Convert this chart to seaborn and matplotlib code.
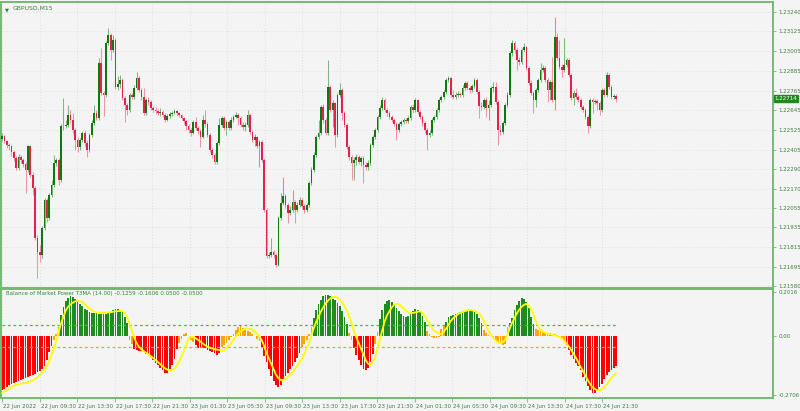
import numpy as np
import pandas as pd
import matplotlib
matplotlib.use("Agg")
import matplotlib.pyplot as plt
import matplotlib.transforms as mtransforms
from matplotlib import font_manager
import seaborn as sns

# ---------------- data ----------------
symbol_title = "GBPUSD,M15"
indicator_title = "Balance of Market Power T3MA (14.00) -0.1259 -0.1606 0.0500 -0.0500"

first_open = 1.22471
close = [
    1.22489, 1.22459, 1.22435, 1.22429, 1.22392, 1.22356, 1.22295, 1.22362, 1.22343, 1.22319,
    1.22283, 1.22429, 1.22252, 1.22174, 1.21870, 1.21785, 1.21767, 1.21931, 1.22101, 1.21991,
    1.22131, 1.22192, 1.22325, 1.22343, 1.22222, 1.22550, 1.22550, 1.22556, 1.22617, 1.22586,
    1.22526, 1.22465, 1.22422, 1.22465, 1.22507, 1.22447, 1.22404, 1.22495, 1.22568, 1.22629,
    1.22598, 1.22933, 1.22750, 1.22738, 1.23054, 1.23102, 1.23011, 1.23072, 1.22787, 1.22805,
    1.22829, 1.22720, 1.22677, 1.22647, 1.22738, 1.22726, 1.22781, 1.22841, 1.22768, 1.22726,
    1.22629, 1.22708, 1.22696, 1.22659, 1.22647, 1.22641, 1.22629, 1.22635, 1.22617, 1.22586,
    1.22611, 1.22623, 1.22629, 1.22641, 1.22629, 1.22617, 1.22598, 1.22580, 1.22550, 1.22526,
    1.22507, 1.22574, 1.22538, 1.22520, 1.22483, 1.22586, 1.22562, 1.22495, 1.22404, 1.22374,
    1.22331, 1.22447, 1.22556, 1.22598, 1.22538, 1.22574, 1.22538, 1.22586, 1.22605, 1.22617,
    1.22598, 1.22556, 1.22544, 1.22556, 1.22617, 1.22513, 1.22465, 1.22483, 1.22429, 1.22453,
    1.22343, 1.22040, 1.21761, 1.21767, 1.21785, 1.21767, 1.21706, 1.21991, 1.22082, 1.22125,
    1.22070, 1.22022, 1.22040, 1.22088, 1.22040, 1.22070, 1.22101, 1.22064, 1.22040, 1.22070,
    1.22204, 1.22283, 1.22374, 1.22483, 1.22507, 1.22665, 1.22586, 1.22507, 1.22787, 1.22647,
    1.22690, 1.22495, 1.22738, 1.22768, 1.22629, 1.22556, 1.22422, 1.22362, 1.22325, 1.22343,
    1.22362, 1.22331, 1.22356, 1.22313, 1.22301, 1.22325, 1.22435, 1.22483, 1.22526, 1.22605,
    1.22659, 1.22708, 1.22647, 1.22629, 1.22605, 1.22586, 1.22562, 1.22526, 1.22562, 1.22574,
    1.22586, 1.22580, 1.22598, 1.22665, 1.22647, 1.22708, 1.22635, 1.22605, 1.22568, 1.22526,
    1.22495, 1.22507, 1.22586, 1.22605, 1.22647, 1.22708, 1.22726, 1.22756, 1.22829, 1.22841,
    1.22738, 1.22726, 1.22738, 1.22744, 1.22738, 1.22781, 1.22811, 1.22781, 1.22768, 1.22793,
    1.22829, 1.22756, 1.22671, 1.22665, 1.22708, 1.22659, 1.22677, 1.22781, 1.22787, 1.22696,
    1.22526, 1.22513, 1.22568, 1.22677, 1.22738, 1.22993, 1.23054, 1.23011, 1.22951, 1.22939,
    1.23011, 1.23030, 1.22902, 1.22811, 1.22750, 1.22708, 1.22768, 1.22829, 1.22890, 1.22902,
    1.22829, 1.22768, 1.22817, 1.22708, 1.23090, 1.22963, 1.22908, 1.22890, 1.22920, 1.22951,
    1.22860, 1.22720, 1.22750, 1.22726, 1.22708, 1.22665, 1.22647, 1.22605, 1.22550, 1.22708,
    1.22696, 1.22702, 1.22690, 1.22647, 1.22768, 1.22738, 1.22860, 1.22787, 1.22726, 1.22732,
    1.22714,
]
high = [
    1.22507, 1.22495, 1.22465, 1.22447, 1.22435, 1.22404, 1.22368, 1.22380, 1.22374, 1.22356,
    1.22331, 1.22435, 1.22435, 1.22271, 1.22186, 1.21888, 1.21827, 1.21943, 1.22113, 1.22113,
    1.22143, 1.22222, 1.22374, 1.22356, 1.22356, 1.22562, 1.22720, 1.22586, 1.22677, 1.22647,
    1.22629, 1.22538, 1.22483, 1.22477, 1.22520, 1.22526, 1.22465, 1.22507, 1.22586, 1.22677,
    1.22647, 1.22963, 1.23024, 1.22762, 1.23066, 1.23145, 1.23115, 1.23102, 1.23084, 1.22853,
    1.22860, 1.22841, 1.22732, 1.22690, 1.22750, 1.22750, 1.22799, 1.22878, 1.22853, 1.22781,
    1.22781, 1.22720, 1.22726, 1.22708, 1.22671, 1.22665, 1.22653, 1.22659, 1.22647, 1.22629,
    1.22623, 1.22635, 1.22641, 1.22653, 1.22647, 1.22635, 1.22623, 1.22605, 1.22586, 1.22562,
    1.22538, 1.22586, 1.22605, 1.22550, 1.22532, 1.22617, 1.22647, 1.22574, 1.22507, 1.22416,
    1.22386, 1.22459, 1.22598, 1.22611, 1.22611, 1.22586, 1.22586, 1.22605, 1.22617, 1.22635,
    1.22629, 1.22611, 1.22574, 1.22574, 1.22647, 1.22629, 1.22526, 1.22501, 1.22489, 1.22465,
    1.22465, 1.22356, 1.22052, 1.21785, 1.21870, 1.21797, 1.21779, 1.22003, 1.22143, 1.22240,
    1.22137, 1.22082, 1.22064, 1.22161, 1.22101, 1.22088, 1.22119, 1.22113, 1.22076, 1.22082,
    1.22216, 1.22301, 1.22392, 1.22495, 1.22586, 1.22677, 1.22684, 1.22598, 1.22951, 1.22799,
    1.22708, 1.22696, 1.22750, 1.22811, 1.22781, 1.22641, 1.22568, 1.22435, 1.22374, 1.22362,
    1.22380, 1.22374, 1.22368, 1.22368, 1.22331, 1.22343, 1.22447, 1.22495, 1.22538, 1.22617,
    1.22677, 1.22726, 1.22720, 1.22659, 1.22641, 1.22617, 1.22598, 1.22574, 1.22574, 1.22586,
    1.22598, 1.22598, 1.22611, 1.22677, 1.22684, 1.22720, 1.22714, 1.22647, 1.22617, 1.22580,
    1.22538, 1.22526, 1.22598, 1.22617, 1.22659, 1.22720, 1.22738, 1.22768, 1.22841, 1.22853,
    1.22847, 1.22768, 1.22756, 1.22762, 1.22756, 1.22799, 1.22823, 1.22823, 1.22793, 1.22805,
    1.22841, 1.22841, 1.22768, 1.22696, 1.22720, 1.22726, 1.22708, 1.22793, 1.22817, 1.22817,
    1.22708, 1.22556, 1.22580, 1.22690, 1.22756, 1.23005, 1.23072, 1.23066, 1.23024, 1.22969,
    1.23024, 1.23054, 1.23036, 1.22914, 1.22829, 1.22762, 1.22781, 1.22841, 1.22933, 1.22920,
    1.22914, 1.22841, 1.22829, 1.22969, 1.23212, 1.23115, 1.23072, 1.22927, 1.23084, 1.22963,
    1.22963, 1.22872, 1.22768, 1.22781, 1.22738, 1.22720, 1.22677, 1.22659, 1.22617, 1.22720,
    1.22720, 1.22714, 1.22714, 1.22702, 1.22781, 1.22781, 1.22878, 1.22872, 1.22799, 1.22744,
    1.22744,
]
low = [
    1.22459, 1.22447, 1.22416, 1.22404, 1.22368, 1.22337, 1.22283, 1.22283, 1.22325, 1.22301,
    1.22143, 1.22271, 1.22240, 1.22131, 1.21858, 1.21627, 1.21724, 1.21749, 1.21918, 1.21967,
    1.21979, 1.22119, 1.22180, 1.22307, 1.22192, 1.22210, 1.22526, 1.22538, 1.22544, 1.22568,
    1.22507, 1.22404, 1.22392, 1.22404, 1.22453, 1.22429, 1.22362, 1.22392, 1.22483, 1.22556,
    1.22586, 1.22586, 1.22738, 1.22611, 1.22726, 1.23042, 1.22951, 1.22999, 1.22775, 1.22768,
    1.22781, 1.22708, 1.22574, 1.22617, 1.22635, 1.22714, 1.22714, 1.22768, 1.22756, 1.22708,
    1.22617, 1.22617, 1.22677, 1.22647, 1.22635, 1.22623, 1.22617, 1.22611, 1.22605, 1.22574,
    1.22580, 1.22598, 1.22611, 1.22623, 1.22617, 1.22605, 1.22586, 1.22562, 1.22526, 1.22507,
    1.22489, 1.22501, 1.22526, 1.22501, 1.22422, 1.22477, 1.22544, 1.22483, 1.22392, 1.22356,
    1.22319, 1.22319, 1.22435, 1.22544, 1.22526, 1.22495, 1.22526, 1.22526, 1.22574, 1.22598,
    1.22556, 1.22544, 1.22526, 1.22520, 1.22544, 1.22501, 1.22453, 1.22429, 1.22416, 1.22301,
    1.22331, 1.22028, 1.21749, 1.21749, 1.21754, 1.21749, 1.21694, 1.21700, 1.21979, 1.22070,
    1.22052, 1.21961, 1.22010, 1.22028, 1.21961, 1.22028, 1.22058, 1.22046, 1.22022, 1.22028,
    1.22058, 1.22192, 1.22271, 1.22362, 1.22471, 1.22495, 1.22568, 1.22495, 1.22495, 1.22635,
    1.22544, 1.22422, 1.22483, 1.22726, 1.22586, 1.22544, 1.22410, 1.22343, 1.22222, 1.22222,
    1.22313, 1.22319, 1.22307, 1.22204, 1.22283, 1.22283, 1.22313, 1.22422, 1.22471, 1.22513,
    1.22592, 1.22647, 1.22635, 1.22611, 1.22592, 1.22574, 1.22550, 1.22465, 1.22513, 1.22550,
    1.22562, 1.22568, 1.22568, 1.22586, 1.22635, 1.22635, 1.22623, 1.22592, 1.22550, 1.22507,
    1.22404, 1.22483, 1.22495, 1.22574, 1.22592, 1.22635, 1.22696, 1.22714, 1.22744, 1.22817,
    1.22726, 1.22714, 1.22714, 1.22726, 1.22726, 1.22726, 1.22768, 1.22768, 1.22750, 1.22756,
    1.22781, 1.22744, 1.22598, 1.22647, 1.22653, 1.22605, 1.22586, 1.22665, 1.22756, 1.22684,
    1.22435, 1.22495, 1.22501, 1.22556, 1.22665, 1.22726, 1.22975, 1.22993, 1.22890, 1.22920,
    1.22927, 1.22999, 1.22890, 1.22799, 1.22738, 1.22629, 1.22665, 1.22756, 1.22817, 1.22878,
    1.22817, 1.22696, 1.22708, 1.22696, 1.22647, 1.22951, 1.22896, 1.22847, 1.22878, 1.22908,
    1.22847, 1.22708, 1.22677, 1.22714, 1.22696, 1.22653, 1.22635, 1.22592, 1.22507, 1.22538,
    1.22629, 1.22684, 1.22647, 1.22617, 1.22635, 1.22726, 1.22726, 1.22775, 1.22714, 1.22714,
    1.22696,
]

bmp_hist = [
    -0.250, -0.243, -0.235, -0.228, -0.223, -0.218, -0.212, -0.207, -0.202, -0.198,
    -0.195, -0.191, -0.187, -0.182, -0.174, -0.165, -0.161, -0.154, -0.140, -0.110,
    -0.077, -0.047, -0.018, 0.010, 0.040, 0.095, 0.133, 0.158, 0.174, 0.182,
    0.180, 0.170, 0.158, 0.147, 0.135, 0.125, 0.116, 0.108, 0.105, 0.103,
    0.103, 0.102, 0.099, 0.098, 0.100, 0.103, 0.111, 0.118, 0.123, 0.123,
    0.119, 0.108, 0.084, 0.060, -0.020, -0.040, -0.060, -0.068, -0.071, -0.072,
    -0.076, -0.082, -0.090, -0.100, -0.112, -0.124, -0.136, -0.147, -0.158, -0.170,
    -0.172, -0.155, -0.133, -0.105, -0.060, -0.032, -0.015, 0.010, 0.011, -0.003,
    -0.018, -0.030, -0.042, -0.055, -0.058, -0.057, -0.058, -0.065, -0.069, -0.074,
    -0.080, -0.088, -0.081, -0.053, -0.043, -0.035, -0.020, -0.005, 0.007, 0.025,
    0.041, 0.044, 0.034, 0.026, 0.022, 0.016, 0.010, 0.000, -0.014, -0.025,
    -0.055, -0.092, -0.123, -0.155, -0.184, -0.208, -0.229, -0.238, -0.227, -0.204,
    -0.186, -0.170, -0.154, -0.138, -0.121, -0.104, -0.078, -0.052, -0.037, -0.018,
    0.010, 0.040, 0.082, 0.118, 0.145, 0.166, 0.182, 0.189, 0.188, 0.181,
    0.171, 0.163, 0.152, 0.135, 0.112, 0.085, 0.052, 0.012, -0.020, -0.055,
    -0.088, -0.114, -0.134, -0.151, -0.158, -0.150, -0.120, -0.082, -0.038, 0.015,
    0.075, 0.120, 0.146, 0.160, 0.164, 0.157, 0.142, 0.128, 0.113, 0.100,
    0.092, 0.088, 0.092, 0.103, 0.113, 0.122, 0.118, 0.108, 0.092, 0.065,
    0.020, 0.008, -0.008, -0.012, -0.012, -0.005, 0.030, 0.045, 0.065, 0.085,
    0.092, 0.097, 0.101, 0.104, 0.107, 0.110, 0.112, 0.114, 0.115, 0.114,
    0.110, 0.100, 0.080, 0.058, 0.025, 0.012, 0.003, -0.002, -0.012, -0.025,
    -0.032, -0.036, -0.042, -0.038, 0.040, 0.057, 0.080, 0.118, 0.142, 0.160,
    0.172, 0.170, 0.156, 0.128, 0.088, 0.055, 0.033, 0.026, 0.020, 0.016,
    0.015, 0.013, 0.011, 0.009, 0.006, 0.002, -0.005, -0.012, -0.025, -0.043,
    -0.068, -0.088, -0.105, -0.125, -0.140, -0.160, -0.192, -0.210, -0.232, -0.250,
    -0.262, -0.262, -0.250, -0.236, -0.222, -0.200, -0.181, -0.168, -0.156, -0.148,
    -0.140,
]
# colour state of each histogram bar: r = red, o = orange, g = green
bmp_state_runs = [("r", 22), ("o", 3), ("g", 29), ("o", 2), ("r", 19), ("o", 7),
                  ("r", 11), ("o", 17), ("r", 17), ("o", 5), ("g", 15), ("o", 2),
                  ("r", 9), ("o", 2), ("g", 20), ("o", 8), ("g", 16), ("o", 11),
                  ("g", 11), ("o", 13), ("r", 22)]

t3ma = [
    -0.264, -0.257, -0.250, -0.243, -0.236, -0.230, -0.227, -0.224, -0.221, -0.219,
    -0.217, -0.214, -0.210, -0.205, -0.199, -0.192, -0.182, -0.169, -0.156, -0.141,
    -0.116, -0.086, -0.057, -0.025, 0.017, 0.056, 0.088, 0.116, 0.133, 0.144,
    0.152, 0.158, 0.160, 0.159, 0.155, 0.145, 0.135, 0.126, 0.118, 0.112,
    0.107, 0.106, 0.106, 0.106, 0.106, 0.107, 0.108, 0.110, 0.112, 0.113,
    0.114, 0.114, 0.105, 0.085, 0.055, 0.024, -0.010, -0.035, -0.052, -0.063,
    -0.071, -0.079, -0.086, -0.094, -0.103, -0.112, -0.121, -0.131, -0.141, -0.150,
    -0.156, -0.159, -0.160, -0.152, -0.138, -0.118, -0.095, -0.070, -0.040, -0.011,
    -0.007, -0.005, -0.012, -0.019, -0.027, -0.036, -0.044, -0.050, -0.055, -0.059,
    -0.062, -0.064, -0.066, -0.068, -0.067, -0.058, -0.047, -0.036, -0.018, -0.004,
    0.010, 0.020, 0.027, 0.032, 0.034, 0.031, 0.028, 0.019, 0.009, -0.004,
    -0.021, -0.048, -0.080, -0.105, -0.131, -0.155, -0.180, -0.195, -0.204, -0.203,
    -0.200, -0.190, -0.180, -0.168, -0.154, -0.139, -0.122, -0.105, -0.085, -0.058,
    -0.031, 0.000, 0.035, 0.063, 0.085, 0.111, 0.130, 0.148, 0.161, 0.171,
    0.177, 0.178, 0.176, 0.165, 0.153, 0.135, 0.116, 0.088, 0.058, 0.020,
    -0.007, -0.034, -0.060, -0.085, -0.113, -0.129, -0.134, -0.124, -0.095, -0.058,
    -0.015, 0.025, 0.065, 0.093, 0.112, 0.130, 0.142, 0.147, 0.145, 0.136,
    0.125, 0.115, 0.107, 0.103, 0.105, 0.107, 0.110, 0.113, 0.105, 0.091,
    0.073, 0.053, 0.037, 0.023, 0.015, 0.010, 0.008, 0.017, 0.032, 0.050,
    0.068, 0.080, 0.090, 0.099, 0.104, 0.109, 0.113, 0.116, 0.118, 0.117,
    0.114, 0.110, 0.100, 0.088, 0.068, 0.045, 0.022, 0.004, -0.010, -0.023,
    -0.031, -0.035, -0.029, -0.020, 0.005, 0.035, 0.060, 0.082, 0.103, 0.120,
    0.133, 0.142, 0.146, 0.137, 0.121, 0.098, 0.067, 0.045, 0.028, 0.020,
    0.014, 0.010, 0.007, 0.004, 0.001, -0.002, -0.007, -0.013, -0.024, -0.035,
    -0.050, -0.067, -0.084, -0.102, -0.122, -0.144, -0.163, -0.184, -0.205, -0.222,
    -0.238, -0.245, -0.251, -0.251, -0.246, -0.237, -0.224, -0.210, -0.195, -0.183,
    -0.172,
]

price_ticks = [1.23240, 1.23125, 1.23005, 1.22885, 1.22765, 1.22645, 1.22525, 1.22405,
               1.22290, 1.22170, 1.22055, 1.21935, 1.21815, 1.21695, 1.21580]
bmp_ticks = [0.2016, 0.0, -0.2706]
bmp_tick_labels = ["0.2016", "0.00", "-0.2706"]
level_up, level_dn = 0.05, -0.05
time_labels = ["22 Jun 2022", "22 Jun 09:30", "22 Jun 13:30", "22 Jun 17:30", "22 Jun 21:30",
               "23 Jun 01:30", "23 Jun 05:30", "23 Jun 09:30", "23 Jun 13:30", "23 Jun 17:30",
               "23 Jun 21:30", "24 Jun 01:30", "24 Jun 05:30", "24 Jun 09:30", "24 Jun 13:30",
               "24 Jun 17:30", "24 Jun 21:30"]

# ---------------- styling ----------------
sns.set_theme(style="white")
installed = {f.name for f in font_manager.fontManager.ttflist}
if "Liberation Sans Narrow" in installed:
    SMALL_FONT, SMALL_SIZE = "Liberation Sans Narrow", 5.3
else:
    SMALL_FONT, SMALL_SIZE = "DejaVu Sans", 4.0
plt.rcParams['font.family'] = [SMALL_FONT, 'DejaVu Sans']

BG = "#f4f4f4"
FRAME = "#74b874"
TXT = "#3f7f3f"
BULL_BODY, BULL_WICK = "#0c7a0c", "#7fb87f"
BEAR_BODY, BEAR_WICK = "#e3214b", "#f094a8"
state_colors = {"r": "#ff0000", "o": "#ffa500", "g": "#1f8a1f"}

close = np.array(close)
high = np.array(high)
low = np.array(low)
n = len(close)
idx = np.arange(n)
opens = np.concatenate([[first_open], close[:-1]])
high = np.maximum(high, np.maximum(opens, close))
low = np.minimum(low, np.minimum(opens, close))
bull = close >= opens

states = "".join(c * k for c, k in bmp_state_runs)
df = pd.DataFrame({"bar": idx, "hist": bmp_hist, "t3": t3ma, "state": list(states)})

W, H = 800, 411
fig = plt.figure(figsize=(W / 100, H / 100), dpi=100, facecolor=BG)


def px_axes(l, t, r, b):
    return fig.add_axes([l / W, 1 - b / H, (r - l) / W, (b - t) / H])


ax = px_axes(1, 2, 773, 287.5)
ax2 = px_axes(1, 288.5, 773, 398.3)

bar_px = 2.362
xlim = (-1 / bar_px, 771 / bar_px)
tick_pos = [k * 15.88 for k in range(len(time_labels))]

for a in (ax, ax2):
    a.set_facecolor(BG)
    a.set_xlim(*xlim)
    for s in a.spines.values():
        s.set_color(FRAME)
        s.set_linewidth(1.4)
    a.set_xticks(tick_pos)
    a.grid(axis="x", color="#d9d9d9", linestyle=(0, (1, 2.5)), linewidth=0.6)
    a.set_axisbelow(True)

# ---- main candlestick panel ----
ax.set_ylim(1.215693, 1.233029)
ax.grid(axis="y", color="#d9d9d9", linestyle=(0, (1, 2.5)), linewidth=0.6)
wick_cols = np.where(bull, BULL_WICK, BEAR_WICK)
body_cols = np.where(bull, BULL_BODY, BEAR_BODY)
ax.vlines(idx, low, high, colors=wick_cols, linewidth=0.75, zorder=2)
body_h = np.maximum(np.abs(close - opens), 0.000015)
ax.bar(idx, body_h, bottom=np.minimum(opens, close), width=0.72,
       color=body_cols, linewidth=0, zorder=3)

ax.yaxis.tick_right()
ax.set_yticks(price_ticks)
ax.set_yticklabels([f"{p:.5f}" for p in price_ticks])
ax.tick_params(axis="y", which="both", right=True, left=False, length=2.5, width=0.6,
               color=FRAME, labelsize=SMALL_SIZE, labelcolor=TXT, pad=1.5)
ax.tick_params(axis="x", bottom=False, labelbottom=False)

last = close[-1]
ax.text(1.0022, last, f"{last:.5f}",
        transform=mtransforms.blended_transform_factory(ax.transAxes, ax.transData),
        ha="left", va="center", fontsize=SMALL_SIZE, color="white",
        bbox=dict(boxstyle="square,pad=0.18", facecolor="#1f8a1f", edgecolor="#1f8a1f"),
        zorder=6, clip_on=False)

ax.text(4 / 772, 0.982, "\u25bc", transform=ax.transAxes, fontsize=3.6, color="#2e7d2e",
        va="top", ha="left", family="DejaVu Sans")
ax.text(12 / 772, 0.986, symbol_title, transform=ax.transAxes, fontsize=SMALL_SIZE + 0.4,
        color=TXT, va="top", ha="left")

# ---- Balance of Market Power panel ----
ax2.set_ylim(-0.288, 0.217)
ax2.bar(df["bar"], df["hist"], width=0.74, color=[state_colors[s] for s in df["state"]],
        linewidth=0, zorder=2)
ax2.hlines([level_up], 0, n - 1, colors="#2ecc2e", linestyles=(0, (2.2, 2.2)),
           linewidth=0.9, zorder=3)
ax2.hlines([level_dn], 0, n - 1, colors="#ff9d1a", linestyles=(0, (2.2, 2.2)),
           linewidth=0.9, zorder=3)
sns.lineplot(data=df, x="bar", y="t3", ax=ax2, color="#ffff00", linewidth=1.3, zorder=4,
             legend=False)
ax2.set_xlabel("")
ax2.set_ylabel("")

ax2.yaxis.tick_right()
ax2.set_yticks(bmp_ticks)
ax2.set_yticklabels(bmp_tick_labels)
ax2.tick_params(axis="y", right=True, left=False, length=2.5, width=0.6, color=FRAME,
                labelsize=SMALL_SIZE, labelcolor=TXT, pad=1.5)
ax2.set_xticklabels(time_labels)
ax2.tick_params(axis="x", bottom=True, length=3, width=0.6, color=FRAME, labelsize=SMALL_SIZE,
                labelcolor=TXT, pad=1.2)
offset = mtransforms.ScaledTranslation(1 / 100, 0, fig.dpi_scale_trans)
for lbl in ax2.get_xticklabels():
    lbl.set_ha("left")
    lbl.set_transform(lbl.get_transform() + offset)
ax2.text(5 / 772, 0.975, indicator_title, transform=ax2.transAxes, fontsize=SMALL_SIZE,
         color=TXT, va="top", ha="left")

fig.savefig("out.png", dpi=100, facecolor=BG)
